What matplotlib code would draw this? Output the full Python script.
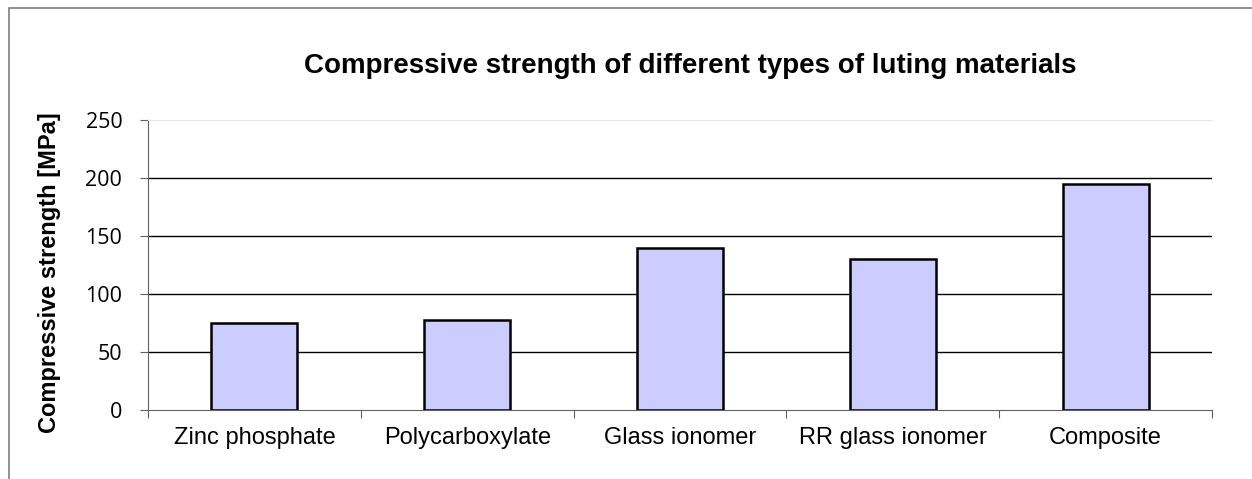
import numpy as np
import matplotlib.pyplot as plt
from matplotlib.patches import Rectangle

# Dados do gráfico
materials = ["Zinc phosphate", "Polycarboxylate", "Glass ionomer",
             "RR glass ionomer", "Composite"]
strength = [75, 78, 140, 130, 195]
y_ticks = [0, 50, 100, 150, 200, 250]

W, H = 1252, 479


def main():
    fig = plt.figure(figsize=(W / 100, H / 100), dpi=100)

    # moldura cinza da área do gráfico (cortada à direita/embaixo)
    fig.patches.append(Rectangle((9 / W, -0.05), 1.2, 1 - 8 / H + 0.05,
                                 transform=fig.transFigure, fill=False,
                                 edgecolor="#7f7f7f", linewidth=1.2))

    ax = fig.add_axes([148 / W, 1 - 410 / H, (1212 - 148) / W, (410 - 120) / H])
    x = np.arange(len(materials))
    ax.bar(x, strength, width=0.405, color="#CCCCFF", edgecolor="black",
           linewidth=1.8, zorder=3)

    ax.set_xlim(-0.5, len(materials) - 0.5)
    ax.set_ylim(0, 250)

    # grade horizontal
    for v in y_ticks[1:-1]:
        ax.axhline(v, color="black", linewidth=1.0, zorder=1)

    ax.spines["right"].set_visible(False)
    ax.spines["top"].set_color("#e6e6e6")
    ax.spines["left"].set_color("#606060")
    ax.spines["bottom"].set_color("#606060")

    ax.set_yticks(y_ticks)
    ax.set_yticklabels([str(v) for v in y_ticks], fontsize=15.5, family="Open Sans")
    ax.tick_params(axis="y", direction="out", length=5.5, width=0.8,
                   color="#606060", pad=13)

    ax.set_xticks(x)
    ax.set_xticklabels(materials, fontsize=17, family="Liberation Sans")
    ax.set_xticks(np.arange(-0.5, len(materials)), minor=True)
    ax.tick_params(axis="x", which="major", length=0, pad=12)
    ax.tick_params(axis="x", which="minor", direction="out", length=5.5,
                   width=0.8, color="#606060")

    fig.text(690 / W, 1 - 66 / H,
             "Compressive strength of different types of luting materials",
             ha="center", va="center", fontsize=20, fontweight="bold",
             family="Liberation Sans")
    fig.text(50 / W, 1 - 273 / H, "Compressive strength [MPa]",
             rotation=90, ha="center", va="center", fontsize=17,
             fontweight="bold", family="Liberation Sans")

    fig.savefig("out.png", dpi=100)


if __name__ == "__main__":
    main()
